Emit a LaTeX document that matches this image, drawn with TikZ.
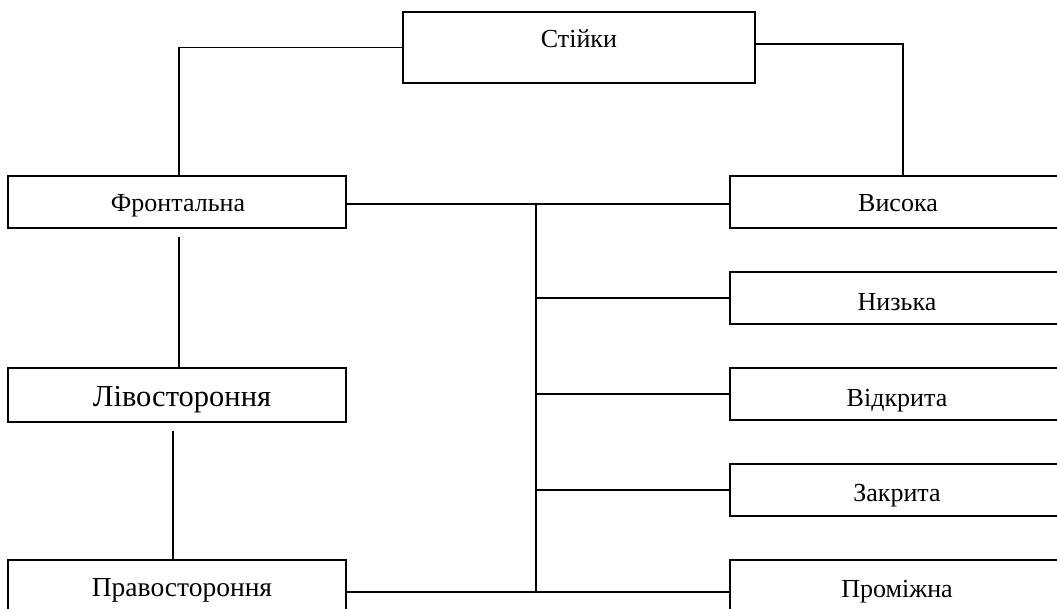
\documentclass[tikz,border=0pt]{standalone}
\usepackage{fontspec}
\setmainfont{Liberation Serif}
\begin{document}
\begin{tikzpicture}[x=1pt,y=-1pt,
  box/.style={draw, line width=1.6pt, inner sep=0pt, rectangle},
  lbl/.style={inner sep=0pt, anchor=base, font=\fontsize{26}{30}\selectfont},
  conn/.style={line width=1.3pt}]
\useasboundingbox (0,0) rectangle (1057,608);
\clip (0,0) rectangle (1057,608);
% boxes
\node[box, minimum width=352pt, minimum height=71pt] (st) at (579,47.5) {};
\node[box, minimum width=338pt, minimum height=52pt] (fr) at (177,202) {};
\node[box, minimum width=338pt, minimum height=54pt] (lv) at (177,395) {};
\node[box, minimum width=338pt, minimum height=80pt] (pr) at (177,600) {};
\node[box, minimum width=336pt, minimum height=52pt] (vy) at (898,202) {};
\node[box, minimum width=336pt, minimum height=52pt] (nz) at (898,298) {};
\node[box, minimum width=336pt, minimum height=52pt] (vk) at (898,394) {};
\node[box, minimum width=336pt, minimum height=52pt] (zk) at (898,490) {};
\node[box, minimum width=336pt, minimum height=80pt] (pm) at (898,600) {};
% texts
\node[lbl] (stt) at (579,47) {Стійки};
\node[lbl] (frt) at (178,211) {Фронтальна};
\node[lbl, font=\fontsize{30.5}{34}\selectfont] (lvt) at (182,406.5) {Лівостороння};
\node[lbl, font=\fontsize{27.5}{32}\selectfont] (prt) at (182,596.5) {Правостороння};
\node[lbl] (vyt) at (898,211) {Висока};
\node[lbl] (nzt) at (897,310) {Низька};
\node[lbl] (vkt) at (897,406) {Відкрита};
\node[lbl] (zkt) at (897,501) {Закрита};
\node[lbl] (pmt) at (897,597) {Проміжна};
% connectors
\coordinate (tr1) at (536,204);
\coordinate (tr2) at (536,592);
\draw[conn] (st.west) -| ([xshift=2pt]fr.north);
\draw[conn] ([yshift=3.5pt]st.east) -| ([xshift=5pt]vy.north);
\draw[conn] ([xshift=2pt,yshift=-8pt]fr.south) -- ([xshift=2pt]lv.north);
\draw[conn] ([xshift=-4pt,yshift=-8pt]lv.south) -- ([xshift=-4pt]pr.north);
\draw[conn] (fr.east |- tr1) -- (vy.west |- tr1);
\draw[conn] (tr1) -- (tr2);
\draw[conn] (tr1 |- nz.west) -- (nz.west);
\draw[conn] (tr1 |- vk.west) -- (vk.west);
\draw[conn] (tr1 |- zk.west) -- (zk.west);
\draw[conn] (pr.east |- tr2) -- (pm.west |- tr2);
\end{tikzpicture}
\end{document}
